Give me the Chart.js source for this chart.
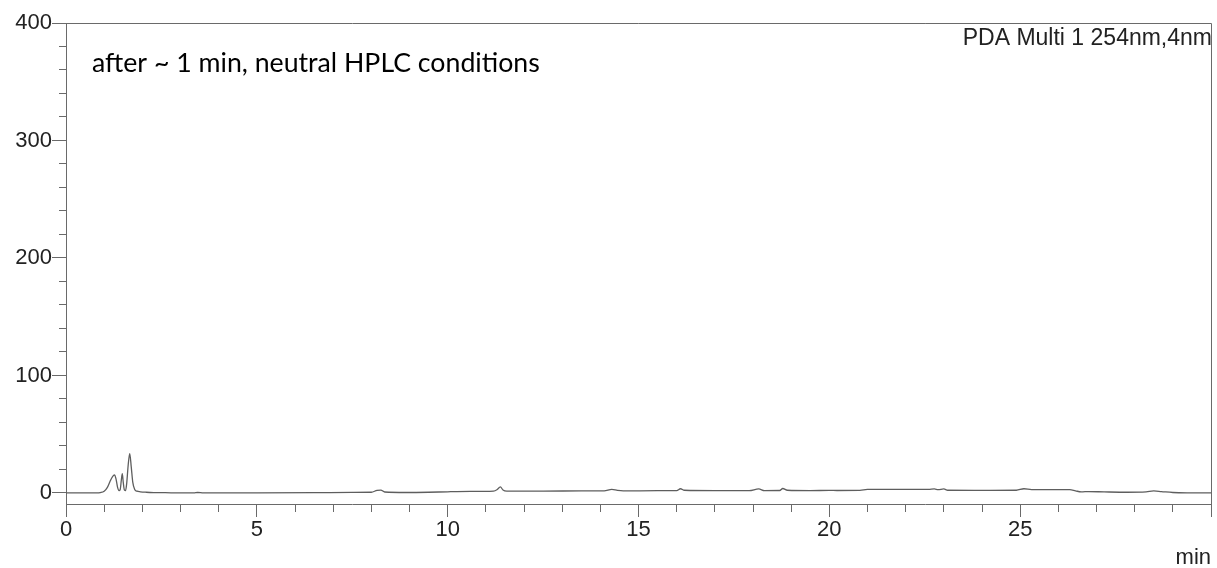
<!DOCTYPE html>
<html>
<head>
<meta charset="utf-8">
<script src="https://cdn.jsdelivr.net/npm/chart.js@4/dist/chart.umd.min.js"></script>
<style>
  html, body { margin: 0; padding: 0; background: #ffffff; }
  #wrap { width: 1217px; height: 568px; position: relative; }
</style>
</head>
<body>
<div id="wrap"><canvas id="c" width="1217" height="568"></canvas></div>
<script>
// ---- data ----
const retentionTime = [
  0, 0.8, 0.9, 1.0, 1.08, 1.15, 1.22, 1.27, 1.31, 1.35, 1.39, 1.42, 1.45, 1.475, 1.5, 1.53, 1.56,
  1.59, 1.63, 1.67, 1.71, 1.75, 1.8, 1.86, 1.95, 2.1, 2.3, 2.6, 3.0, 3.35, 3.45, 3.6, 5.0, 6.5,
  7.5, 8.0, 8.15, 8.25, 8.35, 8.9, 9.5, 10.0, 10.6, 11.2, 11.3, 11.38, 11.45, 11.55, 12.5, 13.5,
  14.1, 14.3, 14.45, 14.6, 15.5, 16.0, 16.1, 16.2, 17.0, 17.9, 18.15, 18.3, 18.7, 18.78, 18.9,
  19.5, 20.0, 20.2, 20.8, 21.0, 22.6, 22.75, 22.85, 23.0, 23.1, 24.0, 24.9, 25.1, 25.3, 26.3,
  26.45, 26.6, 26.8, 27.2, 27.8, 28.3, 28.5, 28.7, 29.0, 29.5, 30.0
];
const absorbance = [
  0, 0, 0.3, 1.5, 4.5, 9.5, 14, 15.3, 12, 5, 2, 3, 11, 16.5, 9, 2.5, 2,
  8, 24, 33.5, 22, 9, 3, 1.5, 1, 0.6, 0.3, 0.2, 0, 0, 0.4, 0, 0, 0.2,
  0.5, 0.6, 2.2, 2.4, 0.8, 0.4, 0.6, 1.0, 1.3, 1.6, 3.0, 5.2, 2.5, 1.6, 1.6, 1.7,
  1.8, 3.0, 2.2, 1.8, 1.9, 2.0, 3.6, 2.3, 2.0, 2.0, 3.4, 2.0, 2.1, 3.8, 2.3,
  2.0, 2.2, 2.1, 2.2, 3.0, 3.0, 3.4, 2.8, 3.4, 2.3, 2.2, 2.3, 3.6, 2.8, 2.8,
  1.8, 0.9, 1.2, 0.9, 0.6, 0.9, 1.7, 1.2, 0.4, 0.1, 0
];
const xTickValues = [0,1,2,3,4,5,6,7,8,9,10,11,12,13,14,15,16,17,18,19,20,21,22,23,24,25,26,27,28,29,30];
const xTickLabels = ['0','','','','','5','','','','','10','','','','','15','','','','','20','','','','','25','','','','',''];
const yTickValues = [0,20,40,60,80,100,120,140,160,180,200,220,240,260,280,300,320,340,360,380,400];
const yTickLabels = ['0','','','','','100','','','','','200','','','','','300','','','','','400'];
const xAxisTitle = 'min';
const detectorLabel = 'PDA Multi 1 254nm,4nm';
const noteLabel = 'after ~ 1 min, neutral HPLC conditions';

const points = retentionTime.map((t, i) => ({ x: t, y: absorbance[i] }));
const axisColor = '#6a6a6a';
const textColor = '#222222';

const framePlugin = {
  id: 'frameAndNotes',
  afterDraw(chart) {
    const { ctx, chartArea: a } = chart;
    ctx.save();
    ctx.strokeStyle = axisColor;
    ctx.lineWidth = 1;
    ctx.beginPath();
    ctx.moveTo(a.left, Math.round(a.top) + 0.5);
    ctx.lineTo(Math.round(a.right) + 0.5, Math.round(a.top) + 0.5);
    ctx.lineTo(Math.round(a.right) + 0.5, a.bottom);
    ctx.stroke();

    ctx.fillStyle = textColor;
    ctx.font = '23px "Liberation Sans", Arial, sans-serif';
    ctx.textAlign = 'right';
    ctx.textBaseline = 'alphabetic';
    ctx.fillText(detectorLabel, a.right + 1, a.top + 22);

    // note text, fitted to the reference width
    let size = 24;
    ctx.font = size + 'px Lato, "Open Sans", sans-serif';
    const w = ctx.measureText(noteLabel).width;
    size = size * 448 / w;
    ctx.font = size.toFixed(2) + 'px Lato, "Open Sans", sans-serif';
    ctx.fillStyle = '#000000';
    ctx.textAlign = 'left';
    ctx.fillText(noteLabel, a.left + 26, a.top + 49);
    ctx.restore();
  }
};

new Chart(document.getElementById('c'), {
  type: 'line',
  data: {
    datasets: [{
      data: points,
      borderColor: '#5e5e5e',
      borderWidth: 1.3,
      pointRadius: 0,
      fill: false,
      cubicInterpolationMode: 'monotone'
    }]
  },
  options: {
    responsive: false,
    animation: false,
    events: [],
    layout: { padding: { top: 23, right: 6, left: 0, bottom: 0 } },
    plugins: { legend: { display: false }, tooltip: { enabled: false }, title: { display: false } },
    scales: {
      x: {
        type: 'linear',
        min: 0,
        max: 30,
        afterBuildTicks(scale) { scale.ticks = xTickValues.map(v => ({ value: v })); },
        afterFit(scale) { scale.height = 64; },
        grid: {
          drawOnChartArea: false,
          tickLength: 13,
          tickColor: axisColor,
          tickWidth: 1,
          tickBorderDash: (ctx) => (ctx.tick && ctx.tick.value % 5 === 0) ? [] : [7, 100]
        },
        border: { display: true, color: axisColor, width: 1 },
        ticks: {
          autoSkip: false,
          maxRotation: 0,
          padding: 0,
          color: textColor,
          font: { family: '"Liberation Sans", Arial, sans-serif', size: 22 },
          callback: (v, i) => xTickLabels[xTickValues.indexOf(v)] || ''
        },
        title: {
          display: true,
          text: xAxisTitle,
          align: 'end',
          color: textColor,
          font: { family: '"Liberation Sans", Arial, sans-serif', size: 22, lineHeight: 1 },
          padding: { top: 0, bottom: -1 }
        }
      },
      y: {
        type: 'linear',
        min: -9.4,
        max: 400,
        afterBuildTicks(scale) { scale.ticks = yTickValues.map(v => ({ value: v })); },
        afterFit(scale) { scale.width = 66; },
        grid: {
          drawOnChartArea: false,
          tickLength: 14,
          tickColor: axisColor,
          tickWidth: 1,
          tickBorderDash: (ctx) => (ctx.tick && ctx.tick.value % 100 === 0) ? [] : [0, 7, 7, 100]
        },
        border: { display: true, color: axisColor, width: 1 },
        ticks: {
          autoSkip: false,
          padding: 0,
          color: textColor,
          font: { family: '"Liberation Sans", Arial, sans-serif', size: 22 },
          callback: (v) => yTickLabels[yTickValues.indexOf(v)] || ''
        }
      }
    }
  },
  plugins: [framePlugin]
});
</script>
</body>
</html>
